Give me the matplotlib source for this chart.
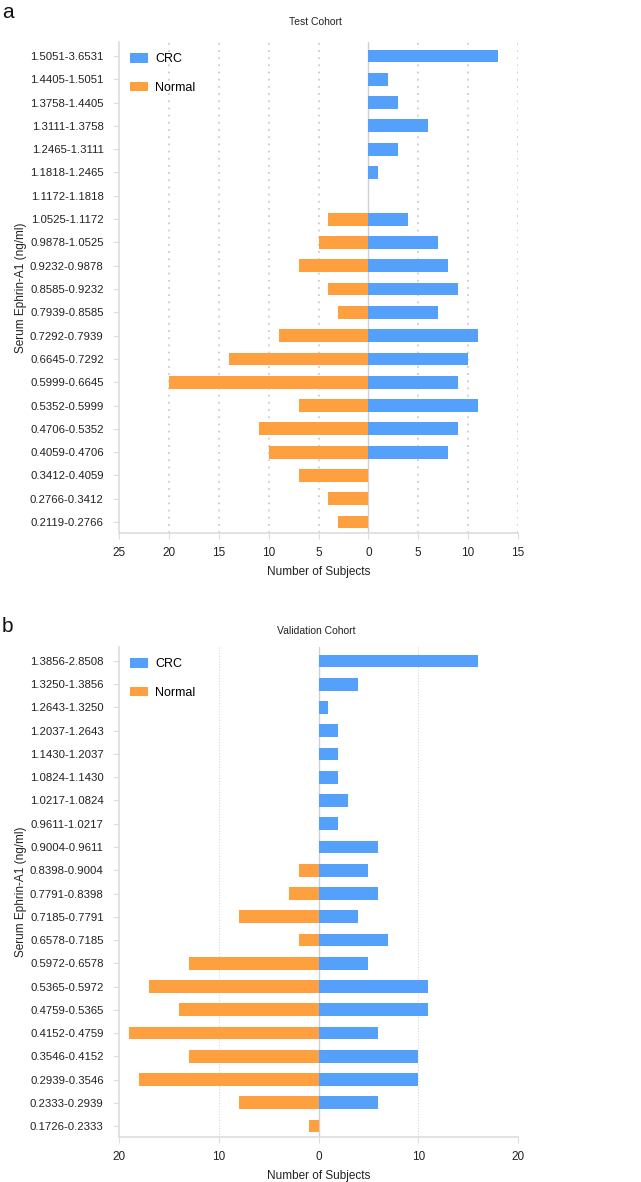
import matplotlib
matplotlib.use("Agg")
import matplotlib.pyplot as plt
from matplotlib.patches import Patch

plt.rcParams['font.family'] = ["Liberation Sans", "DejaVu Sans"]
FS = 8.5
YFS = 8.2

# ---- Panel a: Test Cohort ----
test_bins = ["1.5051-3.6531", "1.4405-1.5051", "1.3758-1.4405", "1.3111-1.3758",
             "1.2465-1.3111", "1.1818-1.2465", "1.1172-1.1818", "1.0525-1.1172",
             "0.9878-1.0525", "0.9232-0.9878", "0.8585-0.9232", "0.7939-0.8585",
             "0.7292-0.7939", "0.6645-0.7292", "0.5999-0.6645", "0.5352-0.5999",
             "0.4706-0.5352", "0.4059-0.4706", "0.3412-0.4059", "0.2766-0.3412",
             "0.2119-0.2766"]
test_crc = [13, 2, 3, 6, 3, 1, 0, 4, 7, 8, 9, 7, 11, 10, 9, 11, 9, 8, 0, 0, 0]
test_normal = [0, 0, 0, 0, 0, 0, 0, 4, 5, 7, 4, 3, 9, 14, 20, 7, 11, 10, 7, 4, 3]
test_xticks = [-25, -20, -15, -10, -5, 0, 5, 10, 15]
test_grid = [-20, -15, -10, -5, 5, 10, 15]

# ---- Panel b: Validation Cohort ----
val_bins = ["1.3856-2.8508", "1.3250-1.3856", "1.2643-1.3250", "1.2037-1.2643",
            "1.1430-1.2037", "1.0824-1.1430", "1.0217-1.0824", "0.9611-1.0217",
            "0.9004-0.9611", "0.8398-0.9004", "0.7791-0.8398", "0.7185-0.7791",
            "0.6578-0.7185", "0.5972-0.6578", "0.5365-0.5972", "0.4759-0.5365",
            "0.4152-0.4759", "0.3546-0.4152", "0.2939-0.3546", "0.2333-0.2939",
            "0.1726-0.2333"]
val_crc = [16, 4, 1, 2, 2, 2, 3, 2, 6, 5, 6, 4, 7, 5, 11, 11, 6, 10, 10, 6, 0]
val_normal = [0, 0, 0, 0, 0, 0, 0, 0, 0, 2, 3, 8, 2, 13, 17, 14, 19, 13, 18, 8, 1]
val_xticks = [-20, -10, 0, 10, 20]
val_grid = [-10, 10]

BLUE = "#55a0fa"
ORANGE = "#ffa040"
SPINE = "#dddddd"
TXT = "#222222"

fig = plt.figure(figsize=(6.41, 11.82), dpi=100)
W, H = 641, 1182


def panel(rect, bins, crc, normal, xticks, grid, title, letter, letter_xy, title_y,
          xlim, grid_style):
    ax = fig.add_axes(rect)
    n = len(bins)
    ys = list(range(n))
    ax.barh(ys, crc, height=0.55, color=BLUE, zorder=3)
    ax.barh(ys, [-v for v in normal], height=0.55, color=ORANGE, zorder=3)
    ax.set_ylim(n - 1 + 0.47, -0.6)
    ax.set_xlim(*xlim)
    ax.set_yticks(ys)
    ax.set_yticklabels(bins, fontsize=YFS, color=TXT)
    ax.set_xticks(xticks)
    ax.set_xticklabels([str(abs(t)) for t in xticks], fontsize=FS, color=TXT)
    for g in grid:
        ax.axvline(g, zorder=1, **grid_style)
    ax.axvline(0, color="#d0d0d0", linewidth=1.0, zorder=2)
    for s in ["top", "right"]:
        ax.spines[s].set_visible(False)
    for s in ["left", "bottom"]:
        ax.spines[s].set_color(SPINE)
        ax.spines[s].set_linewidth(1.2)
    ax.tick_params(axis="y", length=4, color=SPINE, pad=7)
    ax.tick_params(axis="x", length=4, color=SPINE, pad=6)
    ax.set_xlabel("Number of Subjects", fontsize=FS, color=TXT, labelpad=5)
    ax.set_ylabel("Serum Ephrin-A1 (ng/ml)", fontsize=FS, color=TXT)
    ax.yaxis.set_label_coords(-(119 - 27) / 399, 0.5)
    fig.text(rect[0] + rect[2] / 2 - 0.004, title_y, title, fontsize=7.5,
             ha="center", va="center", color=TXT)
    fig.text(letter_xy[0], letter_xy[1], letter, fontsize=15, ha="left",
             va="center", color="#111111")
    handles = [Patch(facecolor=BLUE, label="CRC"), Patch(facecolor=ORANGE, label="Normal")]
    ax.legend(handles=handles, loc="upper left", frameon=False, fontsize=9,
              handlelength=1.45, handleheight=0.8, labelspacing=1.3,
              handletextpad=0.55, borderaxespad=0.5, bbox_to_anchor=(0.0, 1.0))
    return ax


# Panel a axes: x 119..518, y 42..533
panel([119 / W, 1 - 533 / H, 399 / W, (533 - 42) / H],
      test_bins, test_crc, test_normal, test_xticks, test_grid,
      "Test Cohort", "a", (2 / W, 1 - 13 / H), 1 - 22 / H, (-25, 15),
      dict(color="#c4c4c4", linestyle=(0, (1.2, 3.5)), linewidth=1.1))

# Panel b axes: x 119..518, y 647..1137
panel([119 / W, 1 - 1137 / H, 399 / W, (1137 - 647) / H],
      val_bins, val_crc, val_normal, val_xticks, val_grid,
      "Validation Cohort", "b", (2 / W, 1 - 627 / H), 1 - 631 / H, (-20, 20),
      dict(color="#d8d8d8", linestyle=(0, (1, 1.5)), linewidth=0.8))

fig.savefig("out.png", dpi=100)
